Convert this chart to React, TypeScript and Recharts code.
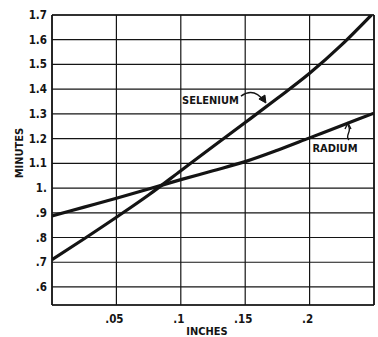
import React from 'react';
import { LineChart, Line, XAxis, YAxis, CartesianGrid, ReferenceLine, ReferenceDot } from 'recharts';

const xTicks = [0.05, 0.1, 0.15, 0.2];
const xTickLabels = ['.05', '.1', '.15', '.2'];
const yTicks = [0.6, 0.7, 0.8, 0.9, 1.0, 1.1, 1.2, 1.3, 1.4, 1.5, 1.6, 1.7];
const yTickLabels = ['.6', '.7', '.8', '.9', '1.', '1.1', '1.2', '1.3', '1.4', '1.5', '1.6', '1.7'];

const seleniumX = [0, 0.025, 0.05, 0.075, 0.1, 0.125, 0.15, 0.175, 0.2, 0.225, 0.248];
const seleniumY = [0.71, 0.795, 0.882, 0.972, 1.07, 1.168, 1.265, 1.363, 1.464, 1.58, 1.7];
const radiumX = [0, 0.025, 0.05, 0.075, 0.1, 0.125, 0.15, 0.175, 0.2, 0.225, 0.25];
const radiumY = [0.887, 0.923, 0.959, 0.996, 1.034, 1.07, 1.107, 1.153, 1.203, 1.253, 1.303];

const seleniumData = seleniumX.map((x, i) => ({ x, v: seleniumY[i] }));
const radiumData = radiumX.map((x, i) => ({ x, v: radiumY[i] }));

const FONT = "'Liberation Sans Narrow','DejaVu Sans Condensed','Arial Narrow',sans-serif";
const INK = '#141414';

const YTick = (props: any) => {
  const { x, y, payload } = props;
  const i = yTicks.findIndex((t) => Math.abs(t - payload.value) < 1e-6);
  return (
    <text x={x + 3} y={y + 4} textAnchor="end" fontFamily={FONT} fontSize={11.5} fontWeight="bold" fill={INK}>
      {yTickLabels[i]}
    </text>
  );
};

const XTick = (props: any) => {
  const { x, y, payload } = props;
  const i = xTicks.findIndex((t) => Math.abs(t - payload.value) < 1e-6);
  return (
    <text x={x - 2} y={y + 10} textAnchor="middle" fontFamily={FONT} fontSize={11.5} fontWeight="bold" fill={INK}>
      {xTickLabels[i]}
    </text>
  );
};

const YLabel = (props: any) => {
  const vb = props.viewBox || { x: 0, y: 15, width: 52, height: 290 };
  const cx = vb.x + 23;
  const cy = vb.y + vb.height / 2 - 7;
  return (
    <text x={cx} y={cy} transform={`rotate(-90 ${cx} ${cy})`} textAnchor="middle" fontFamily={FONT} fontSize={11} fontWeight="bold" fill={INK}>
      MINUTES
    </text>
  );
};

const XLabel = (props: any) => {
  const vb = props.viewBox || { x: 52, y: 305, width: 322, height: 32 };
  return (
    <text x={vb.x + vb.width / 2 - 6} y={vb.y + 30} textAnchor="middle" fontFamily={FONT} fontSize={11} fontWeight="bold" fill={INK}>
      INCHES
    </text>
  );
};

const SeleniumNote = (p: any) => {
  const { cx, cy } = p;
  return (
    <g>
      <text x={cx - 27} y={cy + 1} textAnchor="end" fontFamily={FONT} fontSize={11} fontWeight="bold" fill={INK}>
        SELENIUM
      </text>
      <path d={`M ${cx - 25} ${cy - 7} Q ${cx - 12} ${cy - 16} ${cx - 2} ${cy - 2}`} stroke={INK} strokeWidth={1.5} fill="none" />
      <path d={`M ${cx - 7} ${cy - 4} L ${cx} ${cy} L ${cx - 1} ${cy - 8} Z`} fill={INK} stroke={INK} strokeWidth={1} />
    </g>
  );
};

const RadiumNote = (p: any) => {
  const { cx, cy } = p;
  return (
    <g>
      <text x={cx - 13} y={cy + 29} textAnchor="middle" fontFamily={FONT} fontSize={11} fontWeight="bold" fill={INK}>
        RADIUM
      </text>
      <path d={`M ${cx + 1} ${cy + 17} C ${cx - 4} ${cy + 12} ${cx + 5} ${cy + 9} ${cx} ${cy + 2}`} stroke={INK} strokeWidth={1.4} fill="none" />
      <path d={`M ${cx - 3} ${cy + 6} L ${cx} ${cy} L ${cx + 3} ${cy + 6}`} stroke={INK} strokeWidth={1.4} fill="none" />
    </g>
  );
};

export default function App() {
  return (
    <div style={{ position: 'absolute', left: 0, top: 0, width: 378, height: 337, background: '#fff' }}>
      <LineChart width={378} height={337} margin={{ top: 15, right: 4, left: 0, bottom: 0 }}>
        <CartesianGrid stroke={INK} strokeWidth={1.2} />
        <XAxis
          type="number"
          dataKey="x"
          domain={[0, 0.25]}
          ticks={xTicks}
          tick={<XTick />}
          tickLine={false}
          axisLine={{ stroke: INK, strokeWidth: 1.6 }}
          height={32}
          allowDataOverflow
          label={<XLabel />}
        />
        <YAxis
          type="number"
          dataKey="v"
          domain={[0.527, 1.7]}
          ticks={yTicks}
          tick={<YTick />}
          tickLine={false}
          axisLine={{ stroke: INK, strokeWidth: 1.6 }}
          width={52}
          allowDataOverflow
          label={<YLabel />}
        />
        <ReferenceLine x={0.25} stroke={INK} strokeWidth={1.6} />
        <ReferenceLine y={1.7} stroke={INK} strokeWidth={1.4} />
        <Line data={seleniumData} dataKey="v" type="monotone" stroke={INK} strokeWidth={3.2} dot={false} isAnimationActive={false} />
        <Line data={radiumData} dataKey="v" type="monotone" stroke={INK} strokeWidth={3.2} dot={false} isAnimationActive={false} />
        <ReferenceDot x={0.1661} y={1.344} r={0} shape={<SeleniumNote />} />
        <ReferenceDot x={0.2298} y={1.263} r={0} shape={<RadiumNote />} />
      </LineChart>
    </div>
  );
}
